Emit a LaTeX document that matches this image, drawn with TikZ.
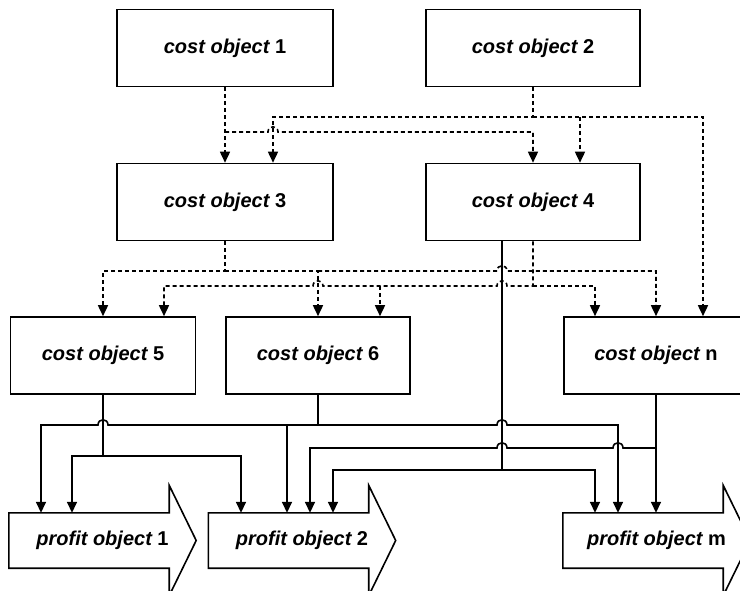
\documentclass[tikz,border=0pt]{standalone}
\usepackage{fontspec}
\setmainfont{Liberation Sans}
\usetikzlibrary{arrows.meta}

\newcommand\labelfont{\bfseries\fontsize{20}{24}\selectfont}

\tikzset{
  costbox/.style={draw, line width=1.6pt, minimum height=77pt,
                  inner sep=0pt, font=\labelfont},
  profitbox/.style={minimum width=187pt, minimum height=55pt,
                    inner sep=0pt, font=\labelfont},
  profitoutline/.style={draw, line width=1.6pt, line join=miter},
  conn/.style={line width=1.6pt},
  arrowline/.style={conn, -{Triangle[width=10pt,length=11pt]}},
  dashline/.style={conn, dash pattern=on 4pt off 3pt},
  dasharrow/.style={dashline, -{Triangle[width=10pt,length=11pt]}},
}

\begin{document}
\begin{tikzpicture}[x=1pt, y=-1pt]
\useasboundingbox (0,0) rectangle (740,591);
\clip (0,0) rectangle (740,591);

% cost objects
\node[costbox, minimum width=216pt] (c1) at (225,48)  {\itshape cost object\upshape{} 1};
\node[costbox, minimum width=214pt] (c2) at (533,48)  {\itshape cost object\upshape{} 2};
\node[costbox, minimum width=216pt] (c3) at (225,202) {\itshape cost object\upshape{} 3};
\node[costbox, minimum width=214pt] (c4) at (533,202) {\itshape cost object\upshape{} 4};
\node[costbox, minimum width=185pt] (c5) at (103,355.5) {\itshape cost object\upshape{} 5};
\node[costbox, minimum width=184pt] (c6) at (318,355.5) {\itshape cost object\upshape{} 6};
\node[costbox, minimum width=184pt] (cn) at (656,355.5) {\itshape cost object\upshape{} n};

% profit objects (arrow-shaped outlines)
\node[profitbox] (p1) at (102.5,540.5) {\itshape profit object\upshape{} 1};
\node[profitbox] (p2) at (302,540.5)   {\itshape profit object\upshape{} 2};
\node[profitbox] (pm) at (656.5,540.5) {\itshape profit object\upshape{} m};
\foreach \p in {p1,p2,pm}{
  \draw[profitoutline] (\p.north west) -- ([xshift=-27pt]\p.north east)
    -- ([xshift=-27pt,yshift=27.5pt]\p.north east) -- (\p.east)
    -- ([xshift=-27pt,yshift=-27.5pt]\p.south east)
    -- ([xshift=-27pt]\p.south east) -- (\p.south west) -- cycle;
}

% first tier: cost objects 1, 2 -> 3, 4, n
\draw[dasharrow] (c1.south) -- (c3.north);
\draw[dasharrow] (c1.south |- 0,132) -- (268,132)
  .. controls +(0,-7) and +(0,-7) .. (278,132) -- (533,132) -- (c4.north);
\draw[dasharrow] (c2.south) -- (533,117) -- (273,117) -- (273,0 |- c3.north);
\draw[dasharrow] (533,117) -- (703,117) -- (703,0 |- cn.north);
\draw[dasharrow] (580,117) -- (580,0 |- c4.north);

% second tier: cost objects 3, 4 -> 5, 6, n
\draw[dasharrow] (c3.south) -- (225,271) -- (103,271) -- (c5.north);
\draw[dasharrow] (225,271) -- (318,271) -- (c6.north);
\draw[dasharrow] (318,271) -- (497,271)
  .. controls +(0,-7) and +(0,-7) .. (507,271) -- (656,271) -- (cn.north);
\draw[dasharrow] (c4.south) -- (533,286) -- (507,286)
  .. controls +(0,-7) and +(0,-7) .. (497,286) -- (323,286)
  .. controls +(0,-7) and +(0,-7) .. (313,286) -- (164,286) -- (164,0 |- c5.north);
\draw[dasharrow] (380,286) -- (380,0 |- c6.north);
\draw[dasharrow] (533,286) -- (595,286) -- (595,0 |- cn.north);

% third tier: cost objects -> profit objects
\draw[arrowline] ([xshift=-31pt]c4.south) -- (502,470) -- (333,470) -- (333,0 |- p2.north);
\draw[arrowline] (502,470) -- (595,470) -- (595,0 |- pm.north);

\draw[arrowline] (c6.south) -- (318,425) -- (108,425)
  .. controls +(0,-7) and +(0,-7) .. (98,425) -- (41,425) -- (41,0 |- p1.north);
\draw[arrowline] (318,425) -- (287,425) -- (287,0 |- p2.north);
\draw[arrowline] (318,425) -- (497,425)
  .. controls +(0,-7) and +(0,-7) .. (507,425) -- (618,425) -- (618,0 |- pm.north);

\draw[arrowline] (cn.south) -- (656,0 |- pm.north);
\draw[arrowline] (656,448) -- (623,448)
  .. controls +(0,-7) and +(0,-7) .. (613,448) -- (507,448)
  .. controls +(0,-7) and +(0,-7) .. (497,448) -- (310,448) -- (310,0 |- p2.north);

\draw[arrowline] (c5.south) -- (103,456) -- (72,456) -- (72,0 |- p1.north);
\draw[arrowline] (103,456) -- (241,456) -- (241,0 |- p2.north);
\end{tikzpicture}
\end{document}
